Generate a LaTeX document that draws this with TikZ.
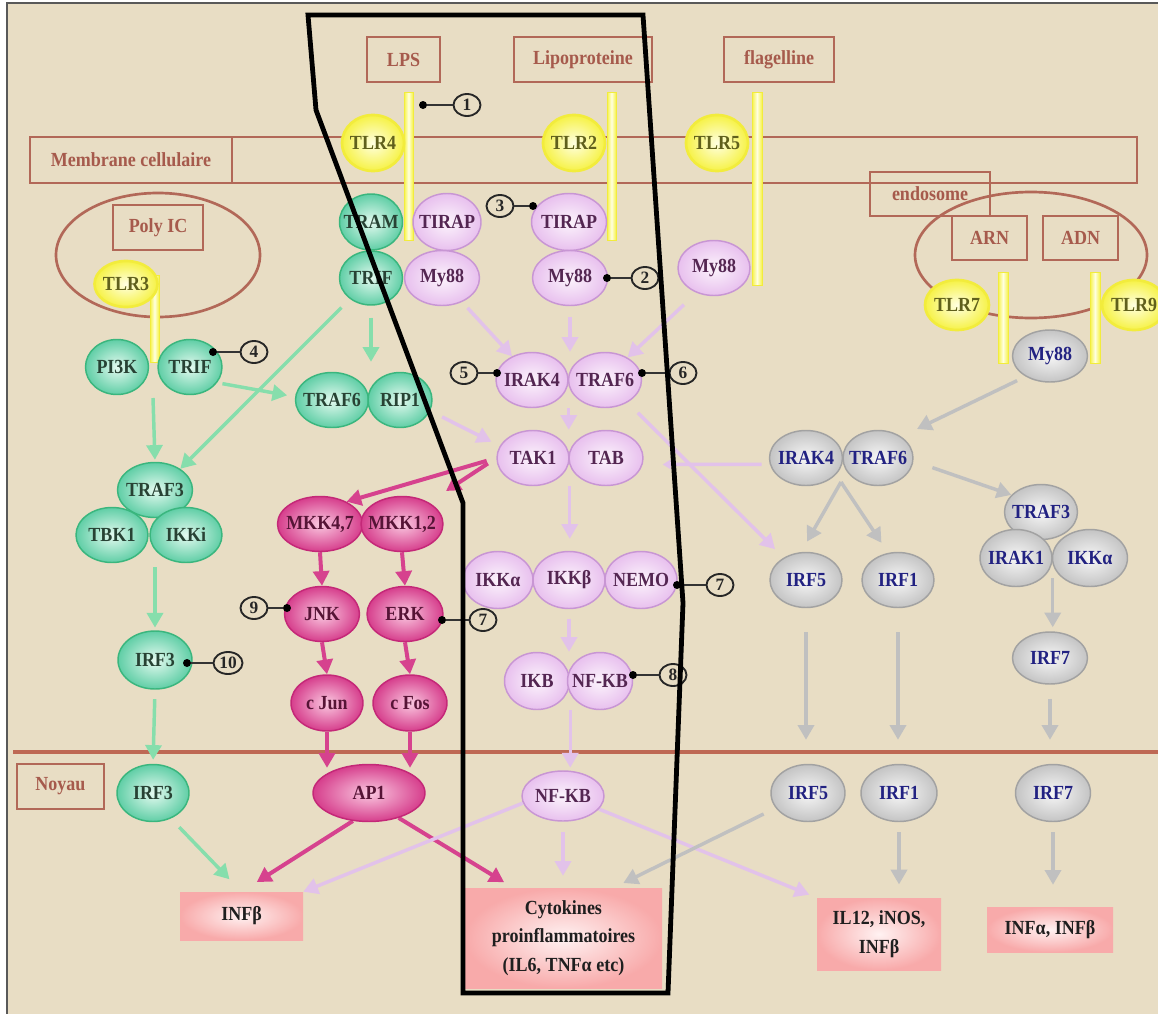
\documentclass[tikz,border=0pt]{standalone}
\usepackage{fontspec}
\setmainfont{Liberation Serif}
\newfontfamily\condfont{Liberation Serif}[FakeStretch=0.9]
\usetikzlibrary{shapes.geometric,arrows.meta}
\pgfdeclarelayer{bglayer}
\pgfdeclarelayer{arrlayer}
\pgfdeclarelayer{toplayer}
\pgfsetlayers{bglayer,arrlayer,main,toplayer}
\definecolor{cBG}{RGB}{232,221,196}
\definecolor{cBrn}{RGB}{178,104,88}
\definecolor{cBrnT}{RGB}{166,90,76}
\definecolor{cNoy}{RGB}{190,104,84}
\definecolor{cGout}{RGB}{96,206,166}
\definecolor{cGin}{RGB}{228,250,240}
\definecolor{cGdr}{RGB}{58,182,126}
\definecolor{cGtx}{RGB}{40,66,52}
\definecolor{cPout}{RGB}{214,62,140}
\definecolor{cPin}{RGB}{250,200,224}
\definecolor{cPdr}{RGB}{196,40,120}
\definecolor{cPtx}{RGB}{86,20,54}
\definecolor{cLout}{RGB}{232,192,238}
\definecolor{cLin}{RGB}{252,244,252}
\definecolor{cLdr}{RGB}{200,150,212}
\definecolor{cLtx}{RGB}{84,38,82}
\definecolor{cRout}{RGB}{196,196,196}
\definecolor{cRin}{RGB}{247,247,247}
\definecolor{cRdr}{RGB}{162,162,162}
\definecolor{cRtx}{RGB}{34,34,130}
\definecolor{cYout}{RGB}{246,242,70}
\definecolor{cYin}{RGB}{255,255,225}
\definecolor{cYdr}{RGB}{242,236,60}
\definecolor{cYtx}{RGB}{96,96,28}
\definecolor{cGa}{RGB}{134,222,172}
\definecolor{cPa}{RGB}{214,66,142}
\definecolor{cLa}{RGB}{226,194,234}
\definecolor{cRa}{RGB}{192,192,192}
\definecolor{cBxo}{RGB}{248,170,170}
\definecolor{cBxi}{RGB}{255,242,242}
\tikzset{
  sz/.style 2 args={minimum width=#1*0.75pt, minimum height=#2*0.75pt},
  txt/.style={font=\condfont\bfseries\fontsize{15pt}{17pt}\selectfont},
  ell/.style={ellipse, shade, line width=1.1pt, inner sep=0pt, txt,
    execute at begin node={\hbox to 0pt\bgroup\hss},
    execute at end node={\hss\egroup}},
  gn/.style={ell, draw=cGdr, inner color=cGin, outer color=cGout, text=cGtx},
  pn/.style={ell, draw=cPdr, inner color=cPin, outer color=cPout, text=cPtx},
  ln/.style={ell, draw=cLdr, inner color=cLin, outer color=cLout, text=cLtx},
  rn/.style={ell, draw=cRdr, inner color=cRin, outer color=cRout, text=cRtx},
  yn/.style={ell, draw=cYdr, line width=2pt, inner color=cYin, outer color=cYout, text=cYtx},
  ybar/.style={rectangle, inner sep=0pt, draw=cYdr, line width=0.4pt, left color=cYout, right color=cYout, middle color=cYin},
  bbox/.style={rectangle, draw=cBrn, line width=1.5pt, inner sep=0pt, txt, text=cBrnT},
  bell/.style={ellipse, draw=cBrn, line width=2pt, inner sep=0pt},
  rbox/.style={rectangle, shade, inner color=cBxi, outer color=cBxo, inner sep=0pt, align=center,
    font=\condfont\bfseries\fontsize{15pt}{21.5pt}\selectfont, text=black!88},
  numc/.style={ellipse, draw=black!85, line width=1.4pt, inner sep=0pt, sz={27}{22},
    font=\bfseries\fontsize{13pt}{14pt}\selectfont, text=black!85},
  blackdot/.style={circle, fill=black, inner sep=0pt, minimum size=6pt},
  numline/.style={draw=black!80, line width=1.2pt},
  arr/.style={-{Triangle[length=11pt,width=12pt]}, line width=2.6pt},
  garr/.style={arr, draw=cGa, fill=cGa},
  parr/.style={arr, draw=cPa, fill=cPa, line width=3pt},
  larr/.style={arr, draw=cLa, fill=cLa},
  rarr/.style={arr, draw=cRa, fill=cRa},
  annot/.style={draw=black, line width=3.6pt, line join=miter},
}
\begin{document}
\begin{tikzpicture}[x=0.75pt,y=-0.75pt]
\useasboundingbox (0,0) rectangle (1158,1014);
\begin{pgfonlayer}{bglayer}
\fill[white] (0,0) rectangle (1158,1014);
\fill[cBG] (8,4) rectangle (1158,1014);
\draw[black!65, line width=1.2pt] (7,1014) -- (7,3) -- (1158,3);
\draw[cNoy, line width=2.3pt] (13,752) -- (1158,752);
\end{pgfonlayer}

% brown frames
\node[bbox, sz={73}{45}] (lps) at (403.5,59.5) {LPS};
\node[bbox, sz={138}{45}] (lipo) at (583,59.5) {Lipoproteine};
\node[bbox, sz={110}{45}] (flag) at (779,59.5) {flagelline};
\node[bbox, sz={1107}{46}] (mem) at (583.5,160) {};
\node[bbox, sz={202}{46}] (memlbl) at (131,160) {Membrane cellulaire};
\node[bell, sz={204}{124}] (polyell) at (158,255) {};
\node[bbox, sz={90}{45}] (polyic) at (158,227.5) {Poly IC};
\node[bell, sz={232}{126}] (endoell) at (1031,255) {};
\node[bbox, sz={120}{44}] (endo) at (930,194) {endosome};
\node[bbox, sz={75}{44}] (arn) at (989.5,238) {ARN};
\node[bbox, sz={75}{44}] (adn) at (1080.5,238) {ADN};
\node[bbox, sz={87}{45}] (noyau) at (60.5,786.5) {Noyau};

% yellow bars
\node[ybar, sz={9}{148}] (bar4) at (408.5,166) {};
\node[ybar, sz={9}{148}] (bar2) at (611.5,166) {};
\node[ybar, sz={10}{193}] (bar5) at (757,188.5) {};
\node[ybar, sz={9}{87}] (bar3) at (154.5,318.5) {};
\node[ybar, sz={10}{91}] (bar7) at (1003,317.5) {};
\node[ybar, sz={10}{91}] (bar9) at (1095,317.5) {};

% TLRs
\node[yn, sz={62}{56}] (TLR4) at (373,143) {TLR4};
\node[yn, sz={62}{56}] (TLR2) at (574,143) {TLR2};
\node[yn, sz={62}{56}] (TLR5) at (717,143) {TLR5};
\node[yn, sz={63}{46}] (TLR3) at (126,284) {TLR3};
\node[yn, sz={64}{50}] (TLR7) at (957,305) {TLR7};
\node[yn, sz={64}{50}] (TLR9) at (1134,305) {TLR9};

% green
\node[gn, sz={63}{56}] (TRAM) at (371,222) {TRAM};
\node[gn, sz={63}{54}] (TRIF1) at (371,278) {TRIF};
\node[gn, sz={63}{55}] (PI3K) at (117,367) {PI3K};
\node[gn, sz={64}{55}] (TRIF2) at (190,367) {TRIF};
\node[gn, sz={73}{55}] (TRAF6g) at (332,400) {TRAF6};
\node[gn, sz={64}{55}] (RIP1) at (400,400) {RIP1};
\node[gn, sz={75}{55}] (TRAF3g) at (155,490) {TRAF3};
\node[gn, sz={72}{55}] (TBK1) at (112,535) {TBK1};
\node[gn, sz={72}{55}] (IKKi) at (186,535) {IKKi};
\node[gn, sz={74}{58}] (IRF3a) at (155,660) {IRF3};
\node[gn, sz={72}{57}] (IRF3b) at (153,793) {IRF3};

% lavender
\node[ln, sz={68}{57}] (TIRAP1) at (447,222) {TIRAP};
\node[ln, sz={75}{55}] (My88a) at (442,278) {My88};
\node[ln, sz={75}{57}] (TIRAP2) at (569,222) {TIRAP};
\node[ln, sz={75}{55}] (My88b) at (570,278) {My88};
\node[ln, sz={72}{55}] (My88c) at (714,268) {My88};
\node[ln, sz={72}{55}] (IRAK4) at (532,380) {IRAK4};
\node[ln, sz={73}{55}] (TRAF6p) at (605,380) {TRAF6};
\node[ln, sz={72}{55}] (TAK1) at (533,458) {TAK1};
\node[ln, sz={74}{55}] (TAB) at (606,458) {TAB};
\node[ln, sz={70}{57}] (IKKa) at (498,580) {IKKα};
\node[ln, sz={72}{57}] (IKKb) at (569,580) {IKKβ};
\node[ln, sz={72}{57}] (NEMO) at (641,580) {NEMO};
\node[ln, sz={65}{57}] (IKB) at (537,681) {IKB};
\node[ln, sz={65}{57}] (NFKB1) at (600,681) {NF-KB};
\node[ln, sz={82}{50}] (NFKB2) at (563,796) {NF-KB};

% pink
\node[pn, sz={85}{55}] (MKK47) at (320,524) {MKK4,7};
\node[pn, sz={82}{55}] (MKK12) at (402,524) {MKK1,2};
\node[pn, sz={75}{55}] (JNK) at (322,614) {JNK};
\node[pn, sz={76}{55}] (ERK) at (405,614) {ERK};
\node[pn, sz={72}{56}] (cJun) at (327,703) {c Jun};
\node[pn, sz={74}{56}] (cFos) at (410,703) {c Fos};
\node[pn, sz={112}{57}] (AP1) at (369,793) {AP1};

% grey
\node[rn, sz={75}{52}] (My88g) at (1050,356) {My88};
\node[rn, sz={73}{55}] (IRAK4g) at (806,458) {IRAK4};
\node[rn, sz={70}{55}] (TRAF6g2) at (878,458) {TRAF6};
\node[rn, sz={73}{55}] (TRAF3gr) at (1041,512) {TRAF3};
\node[rn, sz={72}{57}] (IRAK1) at (1016,558) {IRAK1};
\node[rn, sz={75}{57}] (IKKag) at (1090,558) {IKKα};
\node[rn, sz={72}{55}] (IRF5a) at (806,580) {IRF5};
\node[rn, sz={72}{55}] (IRF1a) at (898,580) {IRF1};
\node[rn, sz={75}{52}] (IRF7a) at (1050,658) {IRF7};
\node[rn, sz={74}{57}] (IRF5b) at (808,793) {IRF5};
\node[rn, sz={76}{57}] (IRF1b) at (899,793) {IRF1};
\node[rn, sz={75}{57}] (IRF7b) at (1053,793) {IRF7};

% result boxes
\node[rbox, sz={123}{48}] (INFb) at (241.5,916) {INFβ};
\node[rbox, sz={197}{100}] (Cyto) at (563.5,938) {Cytokines\\proinflammatoires\\(IL6, TNFα etc)};
\node[rbox, sz={124}{72}] (IL12) at (879,934) {IL12, iNOS,\\INFβ};
\node[rbox, sz={126}{45}] (INFab) at (1050,929.5) {INFα, INFβ};

% connectors
\begin{pgfonlayer}{arrlayer}
\coordinate (j1) at (153,398);
\coordinate (j2) at (155,567);
\coordinate (p2e) at (446,491);
\coordinate (r1e) at (917,429);
\coordinate (gj) at (841,482);
% green
\draw[garr, shorten >=1.5pt] (j1) -- (TRAF3g.north);
\draw[garr, shorten <=9pt] (TRIF1.225) -- (TRAF3g.40);
\draw[garr, shorten <=9pt, shorten >=7.5pt] (TRIF1.south) -- (TRIF1.south |- TRAF6g.north);
\draw[garr, shorten <=4pt, shorten >=6pt] (TRIF2.-30) -- (TRAF6g.175);
\draw[garr, shorten >=2pt] (j2) -- (IRF3a.north);
\draw[garr, shorten <=7pt, shorten >=3pt] (IRF3a.south) -- (IRF3b.north);
\draw[garr, shorten <=9pt, shorten >=13pt] (IRF3b.-55) -- (INFb.north);
% pink
\draw[parr, shorten <=7.5pt] (TAK1.west) -- (MKK47.40);
\draw[parr, shorten <=7.5pt] (TAK1.west) -- (p2e);
\draw[parr] (MKK47.south) -- (JNK.north);
\draw[parr] (MKK12.south) -- (ERK.north);
\draw[parr] (JNK.south) -- (cJun.north);
\draw[parr] (ERK.south) -- (cFos.north);
\draw[parr, shorten >=-3pt] (cJun.south) -- (cJun.south |- AP1.north);
\draw[parr, shorten >=-3pt] (cFos.south) -- (cFos.south |- AP1.north);
\draw[parr, shorten >=13.5pt] (AP1.-120) -- (INFb.north);
\draw[parr, shorten >=8pt] (AP1.-40) -- (Cyto.135);
% lavender
\draw[larr, shorten <=6pt] (My88a.-50) -- (IRAK4.130);
\draw[larr, shorten <=8pt] (My88b.south) -- (My88b.south |- IRAK4.north);
\draw[larr, shorten <=13pt] (My88c.-125) -- (TRAF6p.45);
\draw[larr] (IRAK4.east |- IRAK4.south) -- (IRAK4.east |- TAK1.north);
\draw[larr, shorten <=10pt, shorten >=7pt] (RIP1.-20) -- (TAK1.160);
\draw[larr, shorten >=9pt] (TAK1.east |- TAK1.south) -- (TAK1.east |- IKKb.north);
\draw[larr, shorten <=7pt] (IKKb.south) -- (IKKb.south |- IKB.north);
\draw[larr, shorten >=2pt] (IKB.east |- IKB.south) -- (IKB.east |- NFKB2.north);
\draw[larr, shorten <=8pt, shorten >=9pt] (NFKB2.south) -- (NFKB2.south |- Cyto.north);
\draw[larr] (NFKB2.190) -- (INFb.north east);
\draw[larr, shorten >=6pt] (NFKB2.-20) -- (IL12.north west);
\draw[larr, shorten <=11pt, shorten >=9pt] (TRAF6p.-45) -- (IRF5a.135);
\draw[larr, -{Triangle[length=6pt,width=7pt]}, shorten <=6pt, shorten >=15pt] (IRAK4g.190) -- (TAB.-10);
% grey
\draw[rarr, shorten <=7pt] (My88g.-140) -- (r1e);
\draw[rarr, shorten >=9pt] (gj) -- (IRF5a.100);
\draw[rarr, shorten >=9pt] (gj) -- (IRF1a.110);
\draw[rarr, shorten <=15pt] (TRAF6g2.-5) -- (TRAF3gr.150);
\draw[rarr, shorten <=15pt, shorten >=3pt] (IRAK1.east) -- (IRAK1.east |- IRF7a.north);
\draw[rarr, shorten <=18pt, shorten >=18pt] (IRF5a.south) -- (IRF5a.south |- IRF5b.north);
\draw[rarr, shorten <=18pt, shorten >=18pt] (IRF1a.south) -- (IRF1a.south |- IRF1b.north);
\draw[rarr, shorten <=10.5pt, shorten >=18pt] (IRF7a.south) -- (IRF7a.south |- IRF7b.north);
\draw[rarr, shorten <=10pt, shorten >=8pt] (IRF5b.-155) -- (Cyto.45);
\draw[rarr, shorten <=7.5pt, shorten >=10pt] (IRF1b.south) -- (IRF1b.south |- IL12.north);
\draw[rarr, shorten <=7.5pt, shorten >=16.5pt] (IRF7b.south) -- (IRF7b.south |- INFab.north);
\end{pgfonlayer}

% numbered markers
\node[blackdot] (d1) at (423,105) {};  \node[numc] (n1) at (467,105) {1};
\node[blackdot] (d2) at (607,278) {};  \node[numc] (n2) at (645,278) {2};
\node[blackdot] (d3) at (533,206) {};  \node[numc] (n3) at (500,206) {3};
\node[blackdot] (d4) at (213,352) {};  \node[numc] (n4) at (254,352) {4};
\node[blackdot] (d5) at (497,373) {};  \node[numc] (n5) at (464,373) {5};
\node[blackdot] (d6) at (642,373) {};  \node[numc] (n6) at (683,373) {6};
\node[blackdot] (d7a) at (677,585) {}; \node[numc] (n7a) at (720,585) {7};
\node[blackdot] (d7b) at (442,620) {}; \node[numc] (n7b) at (483,620) {7};
\node[blackdot] (d8) at (633,675) {};  \node[numc] (n8) at (673,675) {8};
\node[blackdot] (d9) at (287,608) {};  \node[numc] (n9) at (254,608) {9};
\node[blackdot] (d10) at (187,663) {}; \node[numc, sz={29}{22}] (n10) at (228,663) {10};
\foreach \k in {1,2,3,4,5,6,7a,7b,8,9,10} { \draw[numline] (d\k) -- (n\k); }

% annotation outline
\begin{pgfonlayer}{toplayer}
\draw[annot] (308,15) -- (643,15) -- (683,603) -- (668,993) -- (463,993) -- (463,503) -- (316,110) -- cycle;
\end{pgfonlayer}
\end{tikzpicture}
\end{document}
